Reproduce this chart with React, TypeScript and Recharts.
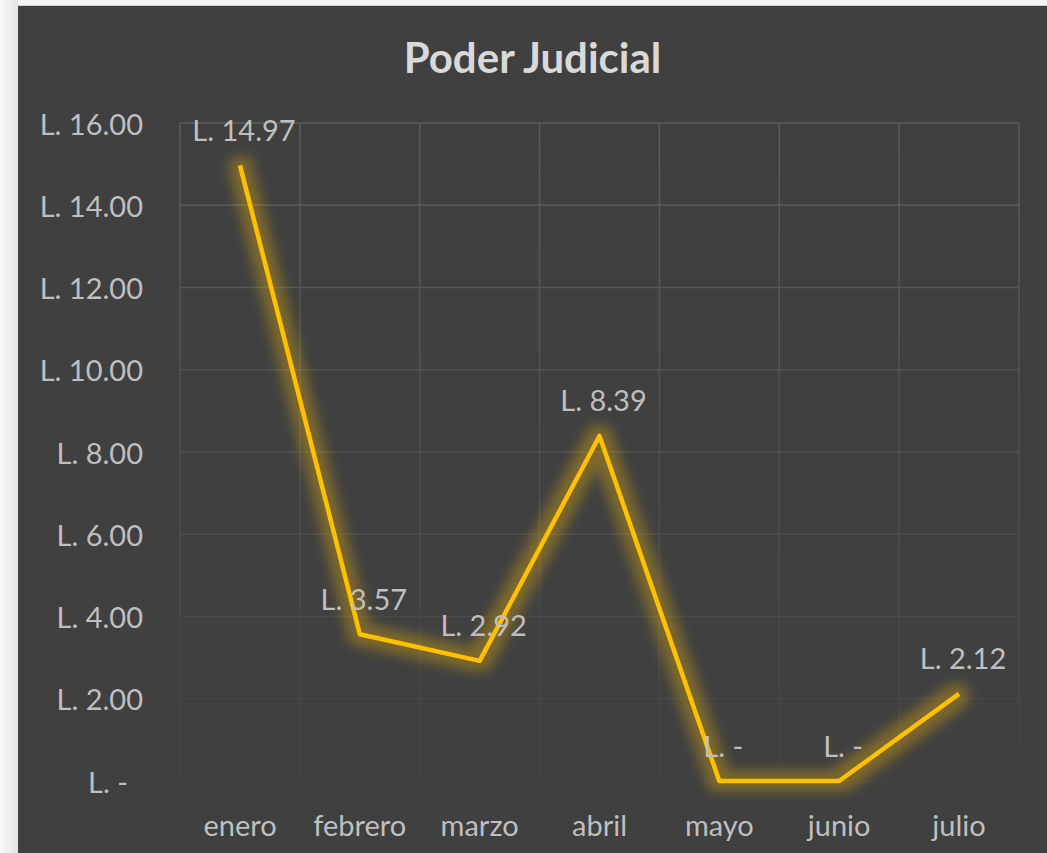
import { CartesianGrid, LabelList, Line, LineChart, XAxis, YAxis } from "recharts";

const MONTHS = ["enero", "febrero", "marzo", "abril", "mayo", "junio", "julio"];
const AMOUNTS = [14.97, 3.57, 2.92, 8.39, 0, 0, 2.12];
const Y_TICKS = [0, 2, 4, 6, 8, 10, 12, 14, 16];

const data = MONTHS.map((m, i) => ({ month: m, value: AMOUNTS[i] }));

const FONT = "Lato, 'Open Sans', sans-serif";
const TEXT = "#bfbfbf";

function lempira(v: number): string {
	return v === 0 ? "L. -" : `L. ${v.toFixed(2)}`;
}

function YTick({ x, y, payload }: any) {
	const zero = payload.value === 0;
	return (
		<text x={x - 37 - (zero ? 15 : 0)} y={y} textAnchor="end" dominantBaseline="central" fill={TEXT} fontSize={29} fontFamily={FONT}>
			{lempira(payload.value)}
		</text>
	);
}

function XTick({ x, y, payload }: any) {
	return (
		<text x={x} y={y + 43} textAnchor="middle" dominantBaseline="central" fill={TEXT} fontSize={29} fontFamily={FONT}>
			{payload.value}
		</text>
	);
}

function PointLabel({ x, y, value }: any) {
	return (
		<text x={x + 4} y={y - 36} textAnchor="middle" dominantBaseline="central" fill={TEXT} fontSize={29} fontFamily={FONT}>
			{lempira(value)}
		</text>
	);
}

export default function App() {
	return (
		<div
			style={{
				position: "fixed",
				left: 0,
				top: 0,
				width: 1047,
				height: 853,
				overflow: "hidden",
				background: "linear-gradient(to right, #fafafa, #e4e4e4 18px, #f4f4f4 18px)",
			}}
		>
			<style>{`.glow-line .recharts-line-curve { filter: url(#glow); }`}</style>
			<div
				style={{
					position: "absolute",
					left: 18,
					top: 6,
					width: 1029,
					height: 847,
					background: "#404040",
					boxShadow: "0 -1px 0 #d2d2d2",
				}}
			>
				<div
					style={{
						position: "absolute",
						top: 30,
						left: 0,
						width: "100%",
						textAlign: "center",
						fontFamily: FONT,
						fontWeight: 700,
						fontSize: 42,
						lineHeight: "42px",
						color: "#d9d9d9",
					}}
				>
					Poder Judicial
				</div>
				<LineChart width={1029} height={847} data={data} margin={{ top: 117, right: 28, bottom: 0, left: 0 }}>
					<defs>
						<linearGradient id="gridFade" gradientUnits="userSpaceOnUse" x1="0" y1="117" x2="0" y2="775">
							<stop offset="0%" stopColor="#5c5c5c" />
							<stop offset="100%" stopColor="#434343" />
						</linearGradient>
						<filter id="glow" filterUnits="userSpaceOnUse" x="0" y="0" width="1029" height="847">
							<feMorphology in="SourceAlpha" operator="dilate" radius="8" result="wide" />
							<feGaussianBlur in="wide" stdDeviation="6" result="blur" />
							<feFlood floodColor="#ffc000" floodOpacity="0.32" />
							<feComposite in2="blur" operator="in" result="halo" />
							<feMerge>
								<feMergeNode in="halo" />
								<feMergeNode in="SourceGraphic" />
							</feMerge>
						</filter>
					</defs>
					<CartesianGrid
						stroke="url(#gridFade)"
						strokeWidth={1.5}
						verticalCoordinatesGenerator={({ offset }: any) =>
							MONTHS.map((_, i) => offset.left + (i * offset.width) / MONTHS.length).concat(offset.left + offset.width)
						}
					/>
					<XAxis
						dataKey="month"
						height={72}
						padding={{ left: 60, right: 60 }}
						axisLine={false}
						tickLine={false}
						tickSize={0}
						tickMargin={0}
						interval={0}
						tick={<XTick />}
					/>
					<YAxis
						width={162}
						domain={[0, 16]}
						ticks={Y_TICKS}
						axisLine={false}
						tickLine={false}
						tickSize={0}
						tickMargin={0}
						interval={0}
						tick={<YTick />}
					/>
					<Line
						className="glow-line"
						dataKey="value"
						stroke="#ffc000"
						strokeWidth={4.5}
						strokeLinejoin="round"
						dot={false}
						activeDot={false}
						isAnimationActive={false}
					>
						<LabelList dataKey="value" content={<PointLabel />} />
					</Line>
				</LineChart>
			</div>
		</div>
	);
}
